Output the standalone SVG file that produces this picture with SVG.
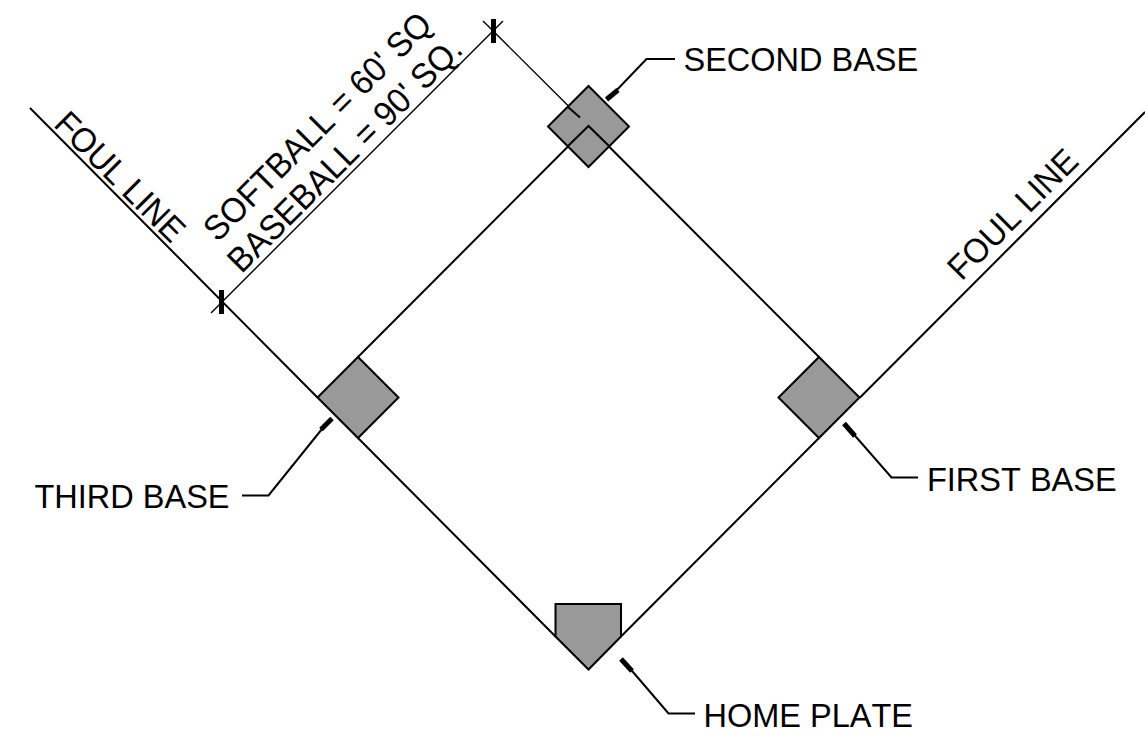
<svg xmlns="http://www.w3.org/2000/svg" width="1145" height="750" viewBox="0 0 1145 750">
<style>
.b{fill:#999;stroke:#000;stroke-width:2;stroke-linejoin:miter}
.l{fill:none;stroke:#000;stroke-width:2}
.t{fill:none;stroke:#000;stroke-width:1.4}
.k{fill:none;stroke:#000;stroke-width:5}
text{font-family:"Liberation Sans",Arial,sans-serif;font-size:32.5px;font-kerning:none;fill:#000}
.r{font-size:33px}
</style>
<rect width="1145" height="750" fill="#fff"/>
<g id="connectors">
<path class="l" d="M30 108L317.5 397.5M358 438L555.5 636.5"/>
<path class="l" d="M621 636.5L819 438M860 397.500L1145 112"/>
<path class="l" d="M358 357L588.500 126L819 357"/>
<path class="t" d="M483 21L580 117.500"/>
<path class="t" d="M503 21L211 313"/>
<path class="k" d="M493.500 19V43M221.500 290V314"/>
<path class="l" d="M612 95L646.500 59H675"/>
<path class="k" d="M606.500 99.500L618 90"/>
<path class="l" d="M326 424L268.500 495.500H242"/>
<path class="k" d="M321 429.500L332 418.500"/>
<path class="l" d="M850 430L891.500 477.500H918"/>
<path class="k" d="M844 423.500L855 436"/>
<path class="l" d="M627 665L668.500 713.500H695"/>
<path class="k" d="M621 659L632 671"/>
</g>
<g id="second-base"><path class="b" d="M588.500 86L629 126.500L588.500 167L548 126.500Z"/><path class="l" d="M568 107L580 117.500M568 146L588.500 126L609 146"/><text transform="translate(683.500 71) scale(1 1.05)">SECOND BASE</text></g>
<g id="third-base"><path class="b" d="M358 357L398.500 397.500L358 438L317.500 397.500Z"/><text transform="translate(34.500 508) scale(1 1.05)">THIRD BASE</text></g>
<g id="first-base"><path class="b" d="M819 357L859.500 397.500L819 438L778.500 397.500Z"/><text transform="translate(927 490.500) scale(1 1.05)">FIRST BASE</text></g>
<g id="home-plate"><path class="b" d="M555.500 604H621V636.500L588.500 669.500L555.500 636.500Z"/><text transform="translate(703.500 726.500) scale(1 1.05)">HOME PLATE</text></g>
<g id="dimension">
<text class="r" transform="translate(217.500 243) rotate(-45) scale(1 1.05)">SOFTBALL = 60' SQ</text>
<text class="r" transform="translate(241.600 274.400) rotate(-45) scale(1 1.05)">BASEBALL = 90' SQ.</text>
</g>
<g id="foul-lines">
<text transform="translate(52.500 125.500) rotate(45) scale(1 1.05)">FOUL LINE</text>
<text transform="translate(961.500 281.800) rotate(-45) scale(1 1.05)">FOUL LINE</text>
</g>
</svg>
